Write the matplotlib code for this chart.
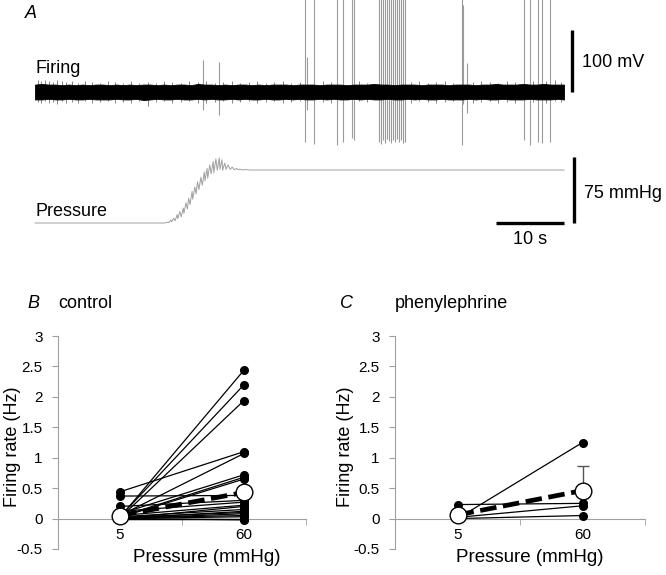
import matplotlib
matplotlib.use('Agg')
import matplotlib.pyplot as plt
import numpy as np

plt.rcParams['font.family'] = ['Liberation Sans', 'DejaVu Sans']

# ---- panel A: firing trace (mV) ----
trace_end = 77.8                      # s
env_hi = [12, 13, 12, 12, 11, 12, 11, 12, 11, 12, 12, 11, 12, 11, 12, 11, 12, 12, 11, 12,
          11, 12, 12, 11, 13, 12, 12, 11, 12, 11, 12, 12, 11, 12, 11, 12, 12, 12, 11, 12,
          12, 12, 11, 12, 12, 12, 11, 12, 12, 12, 13, 12, 12, 11, 12, 12, 12, 11, 12, 12,
          12, 11, 12, 12, 12, 11, 12, 12, 13, 12, 12, 12, 13, 12, 12, 13, 12, 12, 12]
env_lo = [-12, -12, -11, -12, -12, -11, -12, -12, -11, -12, -12, -12, -11, -12, -12, -11, -13, -12, -11, -12,
          -12, -11, -12, -12, -11, -12, -11, -12, -12, -11, -12, -11, -12, -12, -11, -12, -12, -11, -12, -11,
          -12, -12, -11, -12, -11, -12, -12, -11, -12, -11, -12, -12, -11, -12, -12, -11, -12, -11, -12, -12,
          -11, -12, -12, -12, -11, -12, -11, -12, -12, -11, -12, -12, -12, -11, -12, -12, -12, -11, -12]

# noise hairs sticking out of the band
hair_t = [0.4, 0.9, 1.5, 2.1, 2.6, 3.2, 3.9, 4.6, 5.4, 6.3, 7.3, 8.4, 9.5, 10.7, 11.8, 13.0,
          14.1, 15.3, 16.6, 17.8, 19.0, 20.2, 21.5, 22.7, 23.9, 25.2, 26.4, 27.7, 28.9, 30.2,
          31.4, 32.7, 33.9, 35.2, 36.4, 37.7, 38.9, 42.3, 43.5, 47.6, 48.8, 55.3, 56.5, 57.8,
          59.0, 60.3, 61.5, 64.4, 65.6, 66.9, 68.1, 69.4, 70.6, 73.2, 75.2, 76.4, 77.4]
hair_hi = [19, 17, 20, 18, 16, 19, 17, 16, 18, 15, 17, 16, 15, 17, 16, 15,
           17, 15, 16, 15, 17, 16, 15, 18, 16, 17, 15, 16, 17, 15,
           16, 18, 15, 16, 17, 15, 16, 17, 16, 17, 15, 16, 17, 15,
           16, 17, 15, 16, 17, 16, 15, 17, 16, 18, 17, 19, 16]
hair_lo = [-16, -18, -15, -17, -16, -19, -15, -17, -16, -18, -15, -17, -16, -15, -18, -16,
           -17, -15, -22, -16, -15, -17, -16, -15, -17, -18, -16, -15, -17, -16,
           -15, -17, -16, -15, -18, -16, -15, -16, -17, -15, -16, -17, -15, -16,
           -18, -16, -15, -17, -16, -15, -17, -16, -18, -16, -17, -15, -16]

spike_t = [24.7, 27.1, 39.7, 40.0, 41.0, 44.4, 45.3, 46.6, 46.9,
           50.6, 50.9, 51.2, 51.5, 51.8, 52.1, 52.4, 52.6, 52.9, 53.2, 53.5, 53.8, 54.1, 54.4,
           62.8, 62.9, 63.5, 71.9, 72.8, 74.0, 74.6, 75.7]
spike_top = [52, 48, 150, 56, 150, 150, 150, 150, 150,
             150, 150, 150, 150, 150, 150, 150, 150, 150, 150, 150, 150, 150, 150,
             150, 140, 47, 150, 150, 150, 150, 150]
spike_bot = [-29, -37, -81, -29, -84, -86, -81, -74, -77,
             -80, -84, -78, -82, -76, -79, -83, -77, -81, -75, -80, -78, -82, -80,
             -86, -20, -34, -77, -86, -81, -82, -81]

# ---- panel A: pressure trace (mmHg) ----
p_t = [0.0, 19.1, 19.4, 19.7, 20.0, 20.1, 20.4, 20.6, 20.9, 21.0, 21.3, 21.5, 21.8, 21.9,
       22.2, 22.4, 22.6, 22.8, 23.1, 23.2, 23.5, 23.7, 23.9, 24.1, 24.4, 24.6, 24.9, 25.0,
       25.3, 25.4, 25.7, 25.9, 26.2, 26.3, 26.6, 26.8, 27.1, 27.2, 27.5, 27.6, 27.9, 28.1,
       28.4, 28.7, 29.0, 29.3, 29.6, 29.9, 30.1, 30.6, 31.0, 31.6, 77.8]
p_val = [0, 0, 0.8, 0.5, 3.5, 1.5, 5.5, 2.5, 9.5, 5, 13, 7, 17, 11,
         23, 16, 28, 21, 36, 27, 41, 33, 47, 38, 52, 43, 58, 48,
         62, 51, 66, 56, 70, 57, 73, 60, 74, 61, 72, 60, 68, 61,
         66, 61, 63.5, 60.5, 62, 60.5, 61.2, 60.3, 60.8, 60.2, 60.2]

# ---- panels B and C: firing rate (Hz) at 5 and 60 mmHg ----
pressures = ['5', '60']
ctrl_5 = [0.02, 0.03, 0.01, 0.44, 0.05, 0.08, 0.03, 0.02, 0.37, 0.20, 0.12,
          0.05, 0.00, 0.03, 0.00, 0.02, 0.00, 0.01, 0.00, 0.00, 0.00, 0.00]
ctrl_60 = [2.44, 2.20, 1.94, 1.10, 1.07, 0.72, 0.68, 0.65, 0.38, 0.30, 0.27,
           0.22, 0.20, 0.15, 0.12, 0.10, 0.08, 0.05, 0.03, 0.00, 0.00, -0.02]
ctrl_mean = [0.05, 0.43]
phe_5 = [0.00, 0.23, 0.02, 0.00]
phe_60 = [1.25, 0.25, 0.21, 0.05]
phe_mean = [0.06, 0.46]
phe_err = 0.40
yticks = [-0.5, 0, 0.5, 1, 1.5, 2, 2.5, 3]
ytick_labels = ['-0.5', '0', '0.5', '1', '1.5', '2', '2.5', '3']

W, H = 666, 575
fig = plt.figure(figsize=(W / 100, H / 100), dpi=100)

def fax(x0, y0, x1, y1):
    # axes from pixel box (top-left origin)
    return fig.add_axes([x0 / W, 1 - y1 / H, (x1 - x0) / W, (y1 - y0) / H])

xl = (-35 / 6.8, (W - 35) / 6.8)
grey = '#a0a0a0'

# firing
axf = fax(0, 0, W, 150)
axf.set_xlim(xl)
axf.set_ylim(-58 / 0.62, 92 / 0.62)
axf.axis('off')
axf.vlines(spike_t, spike_bot, spike_top, color='#9a9a9a', lw=0.8, zorder=1)
axf.vlines(hair_t, hair_lo, hair_hi, color='#555555', lw=0.5, zorder=1)
t_env = np.linspace(0, trace_end, len(env_hi))
axf.fill_between(t_env, env_lo, env_hi, color='k', lw=0.6, zorder=2)
axf.plot([79.0, 79.0], [0, 100], color='k', lw=2.4, solid_capstyle='butt')
axf.text(80.4, 48, '100 mV', fontsize=13, ha='left', va='center')
axf.text(0, 38.7, 'Firing', fontsize=13, ha='left', va='center')

# pressure
axp = fax(0, 150, W, 290)
axp.set_xlim(xl)
axp.set_ylim(-67 / 0.88, 73 / 0.88)
axp.axis('off')
axp.plot(p_t, p_val, color='#a0a0a0', lw=0.7)
axp.plot([79.3, 79.3], [0, 75], color='k', lw=2.4, solid_capstyle='butt')
axp.plot([67.8, 77.8], [0, 0], color='k', lw=2.4, solid_capstyle='butt')
axp.text(80.7, 34, '75 mmHg', fontsize=13, ha='left', va='center')
axp.text(72.8, -19.3, '10 s', fontsize=13, ha='center', va='center')
axp.text(0, 13.6, 'Pressure', fontsize=13, ha='left', va='center')

fig.text(25 / W, 1 - 14 / H, 'A', fontsize=13, style='italic', ha='left', va='center')

def panel(ax, pre, post, mean, xlab_x):
    for a, b in zip(pre, post):
        ax.plot([1, 2], [a, b], '-o', color='k', lw=0.9, ms=5.5, zorder=3)
    ax.plot([1, 2], mean, color='k', lw=3.4, dashes=(3.5, 1.4), zorder=4)
    ax.plot([1, 2], mean, 'o', mfc='white', mec='k', mew=1.0, ms=12, zorder=6)
    ax.set_xlim(0.5, 2.5)
    ax.set_ylim(-0.5, 3)
    for s in ['top', 'right']:
        ax.spines[s].set_visible(False)
    ax.spines['bottom'].set_position(('data', 0))
    ax.spines['left'].set_color(grey)
    ax.spines['bottom'].set_color(grey)
    ax.set_yticks(yticks)
    ax.set_yticklabels(ytick_labels, fontsize=11)
    ax.set_xticks([1, 2])
    ax.set_xticklabels(pressures, fontsize=11)
    ax.set_xticks([0.5, 1.5, 2.5], minor=True)
    ax.tick_params(axis='x', which='major', length=0, pad=7)
    ax.tick_params(axis='x', which='minor', length=4, color=grey, direction='out')
    ax.tick_params(axis='y', length=4, color=grey, direction='out', pad=7)
    ax.set_ylabel('Firing rate (Hz)', fontsize=13, va='center')
    ax.set_xlabel('Pressure (mmHg)', fontsize=13.5, va='center')
    ax.xaxis.set_label_coords(xlab_x, -0.042)
    ax.patch.set_visible(False)

axB = fax(58, 336, 306, 549)
panel(axB, ctrl_5, ctrl_60, ctrl_mean, 0.60)
axB.yaxis.set_label_coords(-0.185, 0.48)
fig.text(27 / W, 1 - 304 / H, 'B', fontsize=13, style='italic', ha='left', va='center')
fig.text(58 / W, 1 - 304 / H, 'control', fontsize=13, ha='left', va='center')

axC = fax(395, 336, 645, 549)
panel(axC, phe_5, phe_60, phe_mean, 0.54)
axC.errorbar([2], [phe_mean[1]], yerr=[[0], [phe_err]], fmt='none', ecolor='#555555',
             elinewidth=1, capsize=4, zorder=5)
axC.yaxis.set_label_coords(-0.2, 0.48)
fig.text(340 / W, 1 - 304 / H, 'C', fontsize=13, style='italic', ha='left', va='center')
fig.text(395 / W, 1 - 304 / H, 'phenylephrine', fontsize=13, ha='left', va='center')

fig.savefig('out.png', dpi=100)
